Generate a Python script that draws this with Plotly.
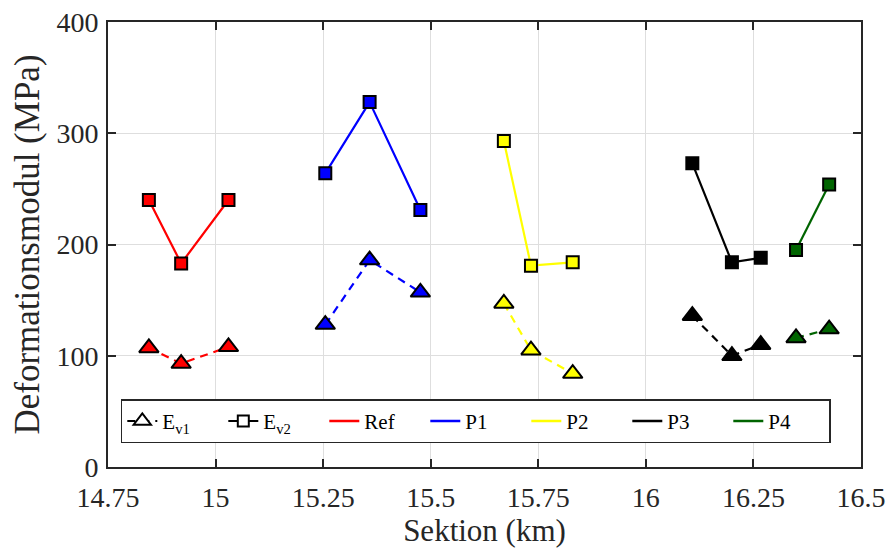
import plotly.graph_objects as go

# Measurement sections (km) and deformation moduli (MPa) per test field
sections = ["Ref", "P1", "P2", "P3", "P4"]
colors = ["#FF0000", "#0000FF", "#FFFF00", "#000000", "#006400"]

km_ref = [14.845, 14.92, 15.03]
ev1_ref = [107, 93, 108]
ev2_ref = [240, 183, 240]

km_p1 = [15.255, 15.358, 15.476]
ev1_p1 = [128, 186, 157]
ev2_p1 = [264, 328, 231]

km_p2 = [15.67, 15.733, 15.83]
ev1_p2 = [147, 105, 84]
ev2_p2 = [293, 181, 184]

km_p3 = [16.108, 16.2, 16.267]
ev1_p3 = [136, 100, 110]
ev2_p3 = [273, 184, 188]

km_p4 = [16.349, 16.426]
ev1_p4 = [116, 124]
ev2_p4 = [195, 254]

km_all = [km_ref, km_p1, km_p2, km_p3, km_p4]
ev1_all = [ev1_ref, ev1_p1, ev1_p2, ev1_p3, ev1_p4]
ev2_all = [ev2_ref, ev2_p1, ev2_p2, ev2_p3, ev2_p4]

x_ticks = [14.75, 15, 15.25, 15.5, 15.75, 16, 16.25, 16.5]
x_tick_text = ["14.75", "15", "15.25", "15.5", "15.75", "16", "16.25", "16.5"]
y_ticks = [0, 100, 200, 300, 400]

FONT = "Liberation Serif"
TXT = "#262626"
DASH = "8px,6px"

fig = go.Figure()

for name, col, km, ev1, ev2 in zip(sections, colors, km_all, ev1_all, ev2_all):
    fig.add_trace(go.Scatter(
        x=km, y=ev1, mode="lines+markers", showlegend=False, name=name,
        line=dict(color=col, width=2.2, dash=DASH),
        marker=dict(symbol="triangle-up", size=17, color=col,
                    line=dict(color="black", width=2)),
    ))
    fig.add_trace(go.Scatter(
        x=km, y=ev2, mode="lines+markers", showlegend=False, name=name,
        line=dict(color=col, width=2.2),
        marker=dict(symbol="square", size=12, color=col,
                    line=dict(color="black", width=2)),
    ))

# legend-only entries
fig.add_trace(go.Scatter(
    x=[None], y=[None], mode="lines+markers", name="E<sub>v1</sub>",
    line=dict(color="black", width=2.2, dash=DASH),
    marker=dict(symbol="triangle-up", size=15, color="white",
                line=dict(color="black", width=2)),
))
fig.add_trace(go.Scatter(
    x=[None], y=[None], mode="lines+markers", name="E<sub>v2</sub>",
    line=dict(color="black", width=2.2),
    marker=dict(symbol="square", size=11, color="white",
                line=dict(color="black", width=2)),
))
for name, col in zip(sections, colors):
    fig.add_trace(go.Scatter(
        x=[None], y=[None], mode="lines", name=name,
        line=dict(color=col, width=2.5),
    ))

axis_common = dict(
    showline=True, linecolor="#262626", linewidth=2, mirror="ticks",
    ticks="inside", ticklen=8, tickwidth=1.5, tickcolor="#262626",
    showgrid=True, gridcolor="#dedede", gridwidth=1, zeroline=False,
    tickfont=dict(family=FONT, size=28, color=TXT), automargin=False,
)

fig.update_layout(
    width=890, height=554,
    margin=dict(l=108, r=29, t=22, b=87),
    paper_bgcolor="white", plot_bgcolor="white",
    font=dict(family=FONT, color=TXT),
    xaxis=dict(range=[14.75, 16.5], tickvals=x_ticks, ticktext=x_tick_text,
               ticklabelstandoff=4,
               title=dict(text="Sektion (km)", font=dict(family=FONT, size=31, color=TXT),
                          standoff=2),
               **axis_common),
    yaxis=dict(range=[0, 400], tickvals=y_ticks, ticklabelstandoff=2,
               title=dict(text="Deformationsmodul (MPa)",
                          font=dict(family=FONT, size=35, color=TXT), standoff=6),
               **axis_common),
    legend=dict(
        orientation="h", x=0.017, y=0.152, xanchor="left", yanchor="top",
        bgcolor="white", bordercolor="#262626", borderwidth=1.5,
        font=dict(family=FONT, size=21, color="black"),
        entrywidth=56, entrywidthmode="pixels",
        tracegroupgap=0,
    ),
    showlegend=True,
)

fig.write_html("out.html")
